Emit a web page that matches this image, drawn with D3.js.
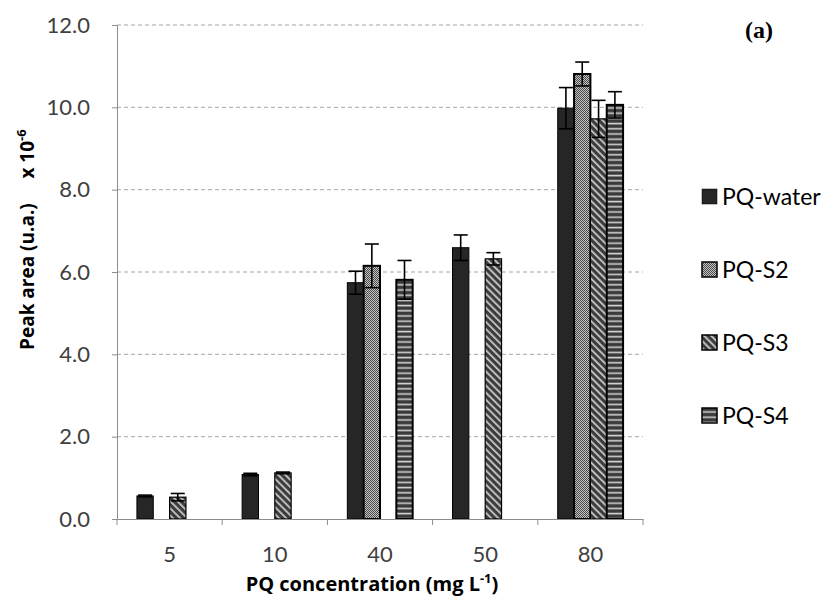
<!DOCTYPE html>
<html>
<head>
  <meta charset="utf-8">
  <title>PQ peak area</title>
  <style>
    body { margin: 0; background: #fff; }
  </style>
</head>
<body>
  <div id="chart"></div>

  <script src="https://d3js.org/d3.v7.min.js"></script>
  <script>
    // data (values x 10^-6)
    var categories = ["5", "10", "40", "50", "80"];
    var seriesNames = ["PQ-water", "PQ-S2", "PQ-S3", "PQ-S4"];
    var water = [0.56, 1.08, 5.74, 6.59, 9.98];
    var s2 = [null, null, 6.15, null, 10.81];
    var s3 = [0.53, 1.12, null, 6.32, 9.72];
    var s4 = [null, null, 5.81, null, 10.06];
    var waterErr = [0.02, 0.03, 0.28, 0.31, 0.50];
    var s2Err = [null, null, 0.53, null, 0.29];
    var s3Err = [0.09, 0.02, null, 0.15, 0.45];
    var s4Err = [null, null, 0.47, null, 0.32];
    var yTicks = [0, 2, 4, 6, 8, 10, 12];

    var values = [water, s2, s3, s4];
    var errors = [waterErr, s2Err, s3Err, s4Err];

    var W = 827, H = 602;
    var plotLeft = 117, plotRight = 643, plotTop = 25, plotBottom = 519;

    var svg = d3.select("#chart").append("svg")
        .attr("width", W)
        .attr("height", H);

    // fill patterns like the Excel ones
    var defs = svg.append("defs");

    var p2 = defs.append("pattern").attr("id", "pat-s2")
        .attr("patternUnits", "userSpaceOnUse").attr("width", 2).attr("height", 2);
    p2.append("rect").attr("width", 2).attr("height", 2).attr("fill", "#c4c4c4");
    p2.append("rect").attr("width", 1).attr("height", 1).attr("fill", "#4a4a4a");
    p2.append("rect").attr("x", 1).attr("y", 1).attr("width", 1).attr("height", 1).attr("fill", "#4a4a4a");

    var p3 = defs.append("pattern").attr("id", "pat-s3")
        .attr("patternUnits", "userSpaceOnUse").attr("width", 5).attr("height", 5)
        .attr("patternTransform", "rotate(-45)");
    p3.append("rect").attr("width", 5).attr("height", 5).attr("fill", "#3c3c3c");
    p3.append("rect").attr("width", 1.8).attr("height", 5).attr("fill", "#c8c8c8");

    var p4 = defs.append("pattern").attr("id", "pat-s4")
        .attr("patternUnits", "userSpaceOnUse").attr("width", 5).attr("height", 5.2);
    p4.append("rect").attr("width", 5).attr("height", 5.2).attr("fill", "#3a3a3a");
    p4.append("rect").attr("y", 3.2).attr("width", 5).attr("height", 1.6).attr("fill", "#d0d0d0");

    var fills = ["#262626", "url(#pat-s2)", "url(#pat-s3)", "url(#pat-s4)"];
    var strokeW = [1, 2, 1.2, 2];

    var y = d3.scaleLinear().domain([0, 12]).range([plotBottom, plotTop]);
    var x0 = d3.scaleBand().domain(categories).range([plotLeft, plotRight]).padding(0);
    var x1 = d3.scaleBand().domain(seriesNames).range([0, x0.bandwidth()])
        .paddingInner(0).paddingOuter(1.22);

    // gridlines
    svg.append("g").selectAll("line")
        .data(yTicks.filter(function(d){ return d > 0; }))
        .enter().append("line")
        .attr("x1", plotLeft).attr("x2", plotRight)
        .attr("y1", function(d){ return y(d); })
        .attr("y2", function(d){ return y(d); })
        .attr("stroke", "#a6a6a6")
        .attr("stroke-width", 1)
        .attr("stroke-dasharray", "4,3");

    // y axis
    var yAxis = svg.append("g")
        .attr("transform", "translate(" + plotLeft + ",0)")
        .call(d3.axisLeft(y).tickValues(yTicks).tickFormat(d3.format(".1f")).tickSizeInner(5).tickSizeOuter(0).tickPadding(22));
    yAxis.select(".domain").attr("stroke", "#8c8c8c");
    yAxis.selectAll(".tick line").attr("stroke", "#8c8c8c");
    yAxis.selectAll("text")
        .attr("font-family", "Lato, 'Open Sans', sans-serif")
        .attr("font-size", 22)
        .attr("fill", "#404040");

    // bars
    var groups = svg.append("g").selectAll("g")
        .data(seriesNames)
        .enter().append("g");

    groups.each(function(name, si) {
      var g = d3.select(this);
      var rows = categories.map(function(c, i) {
        return {cat: c, v: values[si][i], e: errors[si][i]};
      }).filter(function(d){ return d.v != null; });

      g.selectAll("rect")
        .data(rows)
        .enter().append("rect")
        .attr("x", function(d){ return x0(d.cat) + x1(name); })
        .attr("y", function(d){ return y(d.v); })
        .attr("width", x1.bandwidth())
        .attr("height", function(d){ return y(0) - y(d.v); })
        .attr("fill", fills[si])
        .attr("stroke", "#000")
        .attr("stroke-width", strokeW[si]);

      var cap = 7;
      var cx = function(d){ return x0(d.cat) + x1(name) + x1.bandwidth() / 2; };
      var eb = g.selectAll(".err")
        .data(rows)
        .enter().append("g").attr("class", "err")
        .attr("stroke", "#000").attr("stroke-width", 1.6);
      eb.append("line")
        .attr("x1", cx).attr("x2", cx)
        .attr("y1", function(d){ return y(d.v + d.e); })
        .attr("y2", function(d){ return y(d.v - d.e); });
      eb.append("line")
        .attr("x1", function(d){ return cx(d) - cap; })
        .attr("x2", function(d){ return cx(d) + cap; })
        .attr("y1", function(d){ return y(d.v + d.e); })
        .attr("y2", function(d){ return y(d.v + d.e); });
      eb.append("line")
        .attr("x1", function(d){ return cx(d) - cap; })
        .attr("x2", function(d){ return cx(d) + cap; })
        .attr("y1", function(d){ return y(d.v - d.e); })
        .attr("y2", function(d){ return y(d.v - d.e); });
    });

    // x axis (tick marks sit between categories, like Excel)
    var xAxis = svg.append("g")
        .attr("transform", "translate(0," + plotBottom + ")")
        .call(d3.axisBottom(x0).tickSize(0).tickPadding(27));
    xAxis.select(".domain").attr("stroke", "#8c8c8c");
    xAxis.selectAll("text")
        .attr("font-family", "Lato, 'Open Sans', sans-serif")
        .attr("font-size", 22)
        .attr("fill", "#404040");
    var bounds = categories.map(function(c){ return x0(c); }).concat([plotRight]);
    xAxis.selectAll(".sep")
        .data(bounds)
        .enter().append("line").attr("class", "sep")
        .attr("x1", function(d){ return d; }).attr("x2", function(d){ return d; })
        .attr("y1", 0).attr("y2", 6)
        .attr("stroke", "#8c8c8c");

    // axis titles
    var yl = svg.append("text")
        .attr("transform", "translate(34,350) rotate(-90)")
        .attr("font-family", "'Open Sans', Lato, sans-serif")
        .attr("font-weight", "bold")
        .attr("font-size", 19)
        .attr("fill", "#000")
        .style("white-space", "pre");
    yl.append("tspan").text("Peak area (u.a.)     x 10");
    yl.append("tspan").attr("dy", -8).attr("font-size", 13).text("-6");

    var xl = svg.append("text")
        .attr("x", 372).attr("y", 591)
        .attr("text-anchor", "middle")
        .attr("font-family", "'Open Sans', Lato, sans-serif")
        .attr("font-weight", "bold")
        .attr("font-size", 20)
        .attr("fill", "#000");
    xl.append("tspan").text("PQ concentration (mg L");
    xl.append("tspan").attr("dy", -8).attr("font-size", 13).text("-1");
    xl.append("tspan").attr("dy", 8).text(")");

    // legend
    var legend = svg.append("g").selectAll("g")
        .data(seriesNames)
        .enter().append("g")
        .attr("transform", function(d, i){ return "translate(702," + (189 + i * 73) + ")"; });
    legend.append("rect")
        .attr("width", 15).attr("height", 15)
        .attr("fill", function(d, i){ return fills[i]; })
        .attr("stroke", "#000")
        .attr("stroke-width", function(d, i){ return i == 0 ? 0.5 : 1.5; });
    legend.append("text")
        .attr("x", 20).attr("y", 15.5)
        .attr("font-family", "Lato, 'Open Sans', sans-serif")
        .attr("font-size", 23)
        .attr("fill", "#000")
        .text(function(d){ return d; });

    // panel tag
    svg.append("text")
        .attr("x", 759).attr("y", 38)
        .attr("text-anchor", "middle")
        .attr("font-family", "'Liberation Serif', 'DejaVu Serif', serif")
        .attr("font-weight", "bold")
        .attr("font-size", 24)
        .text("(a)");
  </script>
</body>
</html>
